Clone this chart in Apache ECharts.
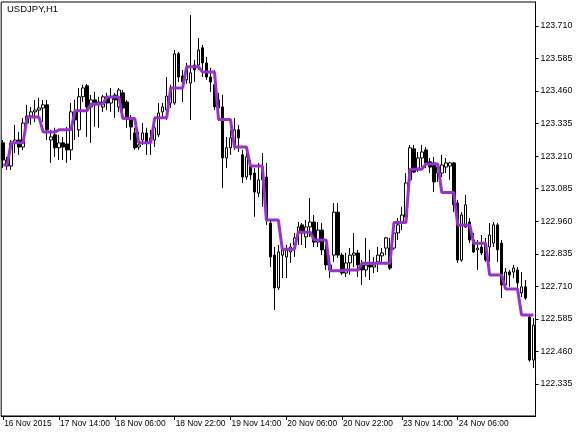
<!DOCTYPE html>
<html>
<head>
<meta charset="utf-8">
<script src="https://cdn.jsdelivr.net/npm/echarts@6/dist/echarts.min.js"></script>
<style>
html,body{margin:0;padding:0;background:#fff;}
#c{width:587px;height:436px;}
</style>
</head>
<body>
<div id="c"></div>
<script>
// Chart title
const chartTitle = 'USDJPY,H1';

// Time-axis labels and the bar each label sits on
const tickLabels = ['16 Nov 2015','17 Nov 14:00','18 Nov 06:00','18 Nov 22:00','19 Nov 14:00','20 Nov 06:00','20 Nov 22:00','23 Nov 14:00','24 Nov 06:00'];
const tickBars = [0, 14, 28, 43, 57, 71, 85, 100, 114];

// Price-axis labels
const priceTicks = [122.335, 122.460, 122.585, 122.710, 122.835, 122.960, 123.085, 123.210, 123.335, 123.460, 123.585, 123.710];

// H1 candles: [open, close, low, high]
const candles = [
[123.261,123.195,123.164,123.272],[123.195,123.172,123.157,123.207],[123.172,123.261,123.157,123.272],[123.261,123.272,123.222,123.330],
[123.272,123.245,123.215,123.303],[123.245,123.337,123.234,123.357],[123.337,123.364,123.319,123.407],[123.364,123.380,123.330,123.399],
[123.380,123.387,123.341,123.426],[123.387,123.395,123.357,123.434],[123.395,123.407,123.341,123.426],[123.407,123.311,123.272,123.426],
[123.272,123.284,123.184,123.311],[123.292,123.242,123.207,123.319],[123.242,123.261,123.195,123.292],[123.261,123.245,123.195,123.284],
[123.257,123.234,123.184,123.322],[123.234,123.380,123.195,123.414],[123.380,123.349,123.272,123.426],[123.311,123.438,123.284,123.472],
[123.438,123.472,123.418,123.484],[123.480,123.399,123.284,123.487],[123.399,123.426,123.261,123.445],[123.426,123.407,123.322,123.457],
[123.411,123.418,123.319,123.438],[123.399,123.438,123.380,123.445],[123.438,123.414,123.387,123.453],[123.414,123.438,123.380,123.472],
[123.445,123.426,123.357,123.453],[123.399,123.464,123.380,123.472],[123.453,123.395,123.380,123.464],[123.418,123.357,123.319,123.426],
[123.357,123.322,123.272,123.368],[123.299,123.242,123.234,123.319],[123.245,123.253,123.234,123.303],[123.272,123.299,123.253,123.337],
[123.299,123.261,123.215,123.319],[123.261,123.280,123.215,123.311],[123.272,123.319,123.245,123.337],[123.292,123.376,123.284,123.414],
[123.380,123.399,123.361,123.414],[123.387,123.441,123.349,123.514],[123.414,123.472,123.395,123.484],[123.414,123.603,123.407,123.618],
[123.603,123.514,123.495,123.610],[123.518,123.495,123.418,123.541],[123.503,123.549,123.488,123.568],[123.491,123.530,123.349,123.752],
[123.560,123.541,123.495,123.580],[123.560,123.618,123.541,123.664],[123.626,123.568,123.514,123.637],[123.568,123.514,123.503,123.591],
[123.514,123.495,123.457,123.549],[123.484,123.399,123.387,123.541],[123.426,123.395,123.368,123.453],[123.399,123.203,123.088,123.445],
[123.203,123.242,123.164,123.284],[123.242,123.280,123.215,123.311],[123.253,123.311,123.234,123.357],[123.311,123.280,123.226,123.330],
[123.215,123.130,123.107,123.234],[123.130,123.207,123.119,123.242],[123.172,123.138,123.119,123.195],[123.145,123.072,122.977,123.164],
[123.068,123.119,123.053,123.184],[123.119,123.157,123.015,123.222],[123.130,122.965,122.946,123.184],[122.953,122.823,122.784,122.965],
[122.830,122.704,122.619,122.861],[122.704,122.842,122.696,122.869],[122.830,122.850,122.742,122.876],[122.823,122.850,122.742,122.869],
[122.842,122.861,122.800,122.876],[122.869,122.896,122.823,122.915],[122.915,122.938,122.869,122.957],[122.946,122.915,122.869,122.953],
[122.900,122.938,122.857,122.965],[122.938,122.957,122.900,123.049],[122.957,122.880,122.861,122.984],[122.880,122.926,122.861,122.957],
[122.926,122.850,122.830,122.953],[122.850,122.792,122.773,122.869],[122.792,122.773,122.742,122.804],[122.830,122.995,122.804,123.030],
[122.995,122.830,122.819,123.030],[122.830,122.761,122.754,122.838],[122.761,122.800,122.746,122.838],[122.800,122.830,122.754,122.857],
[122.830,122.838,122.784,122.915],[122.838,122.792,122.746,122.850],[122.792,122.773,122.715,122.811],[122.773,122.792,122.746,122.896],
[122.792,122.784,122.734,122.850],[122.784,122.792,122.761,122.823],[122.804,122.830,122.765,122.861],[122.827,122.838,122.804,122.857],
[122.857,122.896,122.830,122.900],[122.857,122.780,122.773,122.896],[122.857,122.915,122.850,122.934],[122.915,122.946,122.888,122.972],
[122.953,122.984,122.926,123.015],[122.976,123.107,122.965,123.145],[123.119,123.242,123.111,123.253],[123.238,123.149,123.145,123.253],
[123.164,123.203,123.149,123.226],[123.203,123.226,123.168,123.253],[123.234,123.184,123.164,123.245],[123.188,123.168,123.145,123.203],
[123.184,123.111,123.072,123.207],[123.145,123.168,123.111,123.184],[123.145,123.176,123.130,123.215],[123.168,123.184,123.145,123.203],
[123.172,123.184,123.119,123.188],[123.184,123.023,122.995,123.188],[123.030,122.811,122.800,123.042],[122.811,122.984,122.804,122.995],
[122.938,123.023,122.934,123.061],[122.957,122.888,122.876,122.972],[122.888,122.842,122.838,122.915],[122.850,122.857,122.773,122.888],
[122.861,122.838,122.830,122.907],[122.876,122.811,122.804,122.896],[122.861,122.907,122.804,122.953],[122.876,122.946,122.861,122.957],
[122.946,122.850,122.804,122.953],[122.876,122.715,122.665,122.888],[122.715,122.765,122.704,122.780],[122.765,122.754,122.708,122.773],
[122.765,122.780,122.742,122.792],[122.773,122.723,122.696,122.784],[122.685,122.708,122.669,122.765],[122.708,122.665,122.658,122.734],
[122.592,122.427,122.420,122.600],[122.427,122.561,122.396,122.588]
];

// Stepped (H4) indicator value on each H1 bar
const indicator = [
123.176,123.176,
123.261,123.261,123.261,123.261,
123.360,123.360,123.360,123.360,
123.303,123.303,123.303,123.303,
123.311,123.311,123.311,123.311,
123.384,123.384,123.384,123.384,
123.410,123.410,123.410,123.410,
123.437,123.437,123.437,123.437,
123.355,123.355,123.355,123.355,
123.261,123.261,123.261,123.261,
123.357,123.357,123.357,123.357,
123.472,123.472,123.472,123.472,
123.553,123.553,123.553,123.553,
123.533,123.533,123.533,123.533,
123.351,123.351,123.351,123.351,
123.245,123.245,123.245,123.245,
123.172,123.172,123.172,123.172,
122.965,122.965,122.965,122.965,
122.852,122.852,122.852,122.852,
122.918,122.918,122.918,122.918,
122.888,122.888,122.888,122.888,
122.770,122.770,122.770,122.770,
122.773,122.773,122.773,122.773,
122.799,122.799,122.799,122.799,
122.799,122.799,122.799,122.799,
122.955,122.955,122.955,122.955,
123.160,123.160,123.160,123.160,
123.180,123.180,123.180,123.180,
123.070,123.070,123.070,123.070,
122.946,122.946,122.946,122.946,
122.875,122.875,122.875,122.875,
122.754,122.754,122.754,122.754,
122.700,122.700,122.700,122.700,
122.600,122.600,122.600,122.600
];

const barIndex = candles.map((_, i) => i);
const labelAt = {};
tickBars.forEach((b, k) => { labelAt[b] = tickLabels[k]; });
const isTick = (idx) => labelAt[idx] !== undefined;

const FONT = 'Liberation Sans';
const chart = echarts.init(document.getElementById('c'), null, {renderer: 'canvas'});
chart.setOption({
  animation: false,
  backgroundColor: '#ffffff',
  title: {
    text: chartTitle, left: 7, top: 4, padding: 0,
    textStyle: {fontFamily: FONT, fontSize: 9.5, fontWeight: 'normal', color: '#000'}
  },
  grid: {
    left: 1.2, top: 2, width: 534.3, height: 414,
    show: true, borderColor: '#000', borderWidth: 1, backgroundColor: '#fff'
  },
  xAxis: {
    type: 'category', data: barIndex, boundaryGap: true,
    axisLine: {show: true, lineStyle: {color: '#000', width: 1}},
    axisTick: {show: true, alignWithLabel: true, length: 4, interval: isTick, lineStyle: {color: '#000'}},
    axisLabel: {
      show: true, interval: isTick, align: 'left', margin: 4,
      formatter: (v, idx) => labelAt[idx] || '',
      fontFamily: FONT, fontSize: 8.4, color: '#000', padding: [0, 0, 0, 1]
    },
    splitLine: {show: false}
  },
  yAxis: {
    type: 'value', position: 'right', min: 122.212, max: 123.802, scale: true,
    axisLine: {show: true, lineStyle: {color: '#000', width: 1}},
    axisTick: {show: true, length: 3, customValues: priceTicks, lineStyle: {color: '#000'}},
    axisLabel: {
      show: true, customValues: priceTicks, margin: 5,
      formatter: (v) => Number(v).toFixed(3),
      fontFamily: FONT, fontSize: 8.8, color: '#000'
    },
    splitLine: {show: false}
  },
  series: [
    {
      type: 'candlestick', data: candles, barWidth: 3,
      itemStyle: {color: '#ffffff', color0: '#000000', borderColor: '#000000', borderColor0: '#000000', borderWidth: 1},
      z: 2
    },
    {
      type: 'line', data: indicator, symbol: 'none', smooth: false,
      lineStyle: {color: '#9932CC', width: 3}, itemStyle: {color: '#9932CC'},
      z: 3
    }
  ]
});
</script>
</body>
</html>
